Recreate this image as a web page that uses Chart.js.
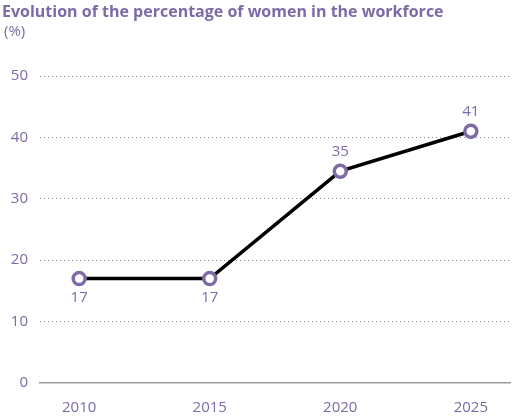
<!DOCTYPE html>
<html>
<head>
<meta charset="utf-8">
<script src="https://cdn.jsdelivr.net/npm/chart.js@4"></script>
<style>
  body { margin: 0; background: #fff; }
  #wrap { position: relative; width: 526px; height: 419px; font-family: "Open Sans", sans-serif; }
  #title { position: absolute; left: 2px; top: 0px; font-size: 16px; font-weight: bold; color: #7d6aa6; }
  #unit { position: absolute; left: 4px; top: 20px; font-size: 15px; color: #7d6aa6; }
  canvas { position: absolute; left: 0; top: 0; }
</style>
</head>
<body>
<div id="wrap">
  <canvas id="chart" width="526" height="419"></canvas>
  <div id="title">Evolution of the percentage of women in the workforce</div>
  <div id="unit">(%)</div>
</div>
<script>
// Dữ liệu
const years = [2010, 2015, 2020, 2025];
const values = [17, 17, 34.5, 41];
const valueLabels = ["17", "17", "35", "41"];
const labelBelow = [true, true, false, false];

const purple = "#7d6aa6";

// Nhãn giá trị
const valueLabelPlugin = {
  id: "valueLabels",
  afterDatasetsDraw(chart) {
    const ctx = chart.ctx;
    const meta = chart.getDatasetMeta(0);
    ctx.save();
    ctx.font = "15px 'Open Sans', sans-serif";
    ctx.fillStyle = purple;
    ctx.textAlign = "center";
    meta.data.forEach((pt, i) => {
      if (labelBelow[i]) {
        ctx.textBaseline = "top";
        ctx.fillText(valueLabels[i], pt.x, pt.y + 12);
      } else {
        ctx.textBaseline = "bottom";
        ctx.fillText(valueLabels[i], pt.x, pt.y - 12);
      }
    });
    ctx.restore();
  },
};

new Chart(document.getElementById("chart"), {
  type: "line",
  data: {
    datasets: [
      {
        data: years.map((y, i) => ({ x: y, y: values[i] })),
        borderColor: "#000",
        borderWidth: 3.5,
        pointRadius: 6,
        pointBorderWidth: 3.5,
        pointBorderColor: purple,
        pointBackgroundColor: "#fff",
        tension: 0,
      },
    ],
  },
  options: {
    responsive: false,
    animation: false,
    layout: { padding: { top: 76, right: 16, left: 0, bottom: 0 } },
    plugins: { legend: { display: false }, tooltip: { enabled: false } },
    scales: {
      x: {
        type: "linear",
        min: 2008.5,
        max: 2026.5,
        afterBuildTicks: (axis) => {
          axis.ticks = years.map((v) => ({ value: v }));
        },
        afterFit: (axis) => { axis.height = 36; },
        grid: { display: false },
        border: { display: true, color: "#999", width: 1.5 },
        ticks: {
          color: purple,
          font: { size: 15, family: "'Open Sans', sans-serif" },
          padding: 8,
          callback: (v) => String(v),
        },
      },
      y: {
        min: 0,
        max: 50,
        afterFit: (axis) => { axis.width = 40; },
        border: { display: false, dash: [1, 3] },
        grid: {
          color: (c) => (c.tick.value === 0 ? "rgba(0,0,0,0)" : "#888"),
          lineWidth: 1,
          drawTicks: false,
        },
        ticks: {
          stepSize: 10,
          color: purple,
          font: { size: 15, family: "'Open Sans', sans-serif" },
          padding: 12,
        },
      },
    },
  },
  plugins: [valueLabelPlugin],
});
</script>
</body>
</html>
